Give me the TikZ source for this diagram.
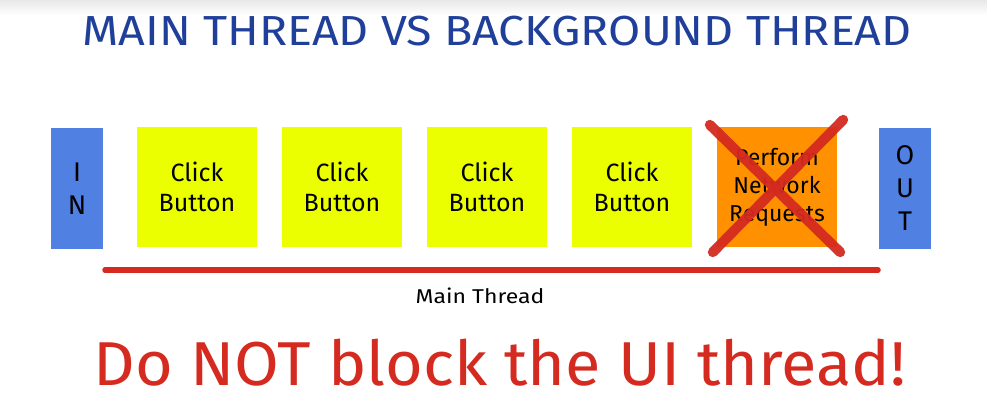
\documentclass[tikz,border=0pt]{standalone}
\usepackage{fontspec}
\setmainfont{Fira Sans}
\usetikzlibrary{calc}
\definecolor{titleblue}{HTML}{1F3F9A}
\definecolor{inkred}{HTML}{D42A20}
\definecolor{portblue}{HTML}{5080E2}
\definecolor{noteyellow}{HTML}{EBFF00}
\definecolor{noteorange}{HTML}{FF9100}
\tikzset{
  port/.style={fill=portblue,minimum width=52pt,minimum height=121pt,inner sep=0pt,align=center,font=\fontsize{27}{33}\selectfont},
  task/.style={minimum width=120pt,minimum height=120pt,inner sep=0pt,align=center,font=\fontsize{25}{30}\selectfont},
}
\begin{document}
\begin{tikzpicture}[x=1pt,y=1pt]

	% Canvas
	\useasboundingbox (0,0) rectangle (987,401);
	\shade[top color=gray!18,bottom color=white] (0,386) rectangle (987,401);

	% Title
	\node[titleblue,font=\fontsize{42}{45}\selectfont,xscale=1.11] (title) at (497,370) {MAIN THREAD VS BACKGROUND THREAD};

	% In / out
	\node[port] (in)  at (77,212.5)  {I\\N};
	\node[port] (out) at (905,212.5) {O\\U\\T};

	% Tasks on the main thread
	\node[task,fill=noteyellow] (click1) at (197,214) {Click\\Button};
	\node[task,fill=noteyellow] (click2) at (342,214) {Click\\Button};
	\node[task,fill=noteyellow] (click3) at (487,214) {Click\\Button};
	\node[task,fill=noteyellow] (click4) at (632,214) {Click\\Button};
	\node[task,fill=noteorange,font=\fontsize{23}{28}\selectfont] (net) at (777,214) {Perform\\Network\\Requests};

	% Crossed out
	\draw[inkred,opacity=.95,line width=10pt,line cap=round]
		($(net.north west)+(-7,2)$) -- ($(net.south east)+(3,-5)$);
	\draw[inkred,opacity=.95,line width=10pt,line cap=round]
		($(net.north east)+(6,7)$) -- ($(net.south west)+(-4,-5)$);

	% Main thread line
	\coordinate (start) at (105,131);
	\coordinate (stop)  at (878,131);
	\draw[inkred,line width=5.5pt,line cap=round] (start) -- (stop);
	\node[font=\fontsize{20}{22}\selectfont,xscale=1.15] (label) at (480,105) {Main Thread};

	% Warning
	\node[inkred,font=\fontsize{62}{66}\selectfont,xscale=1.045] (warn) at (500,38) {Do NOT block the UI thread!};

\end{tikzpicture}
\end{document}
